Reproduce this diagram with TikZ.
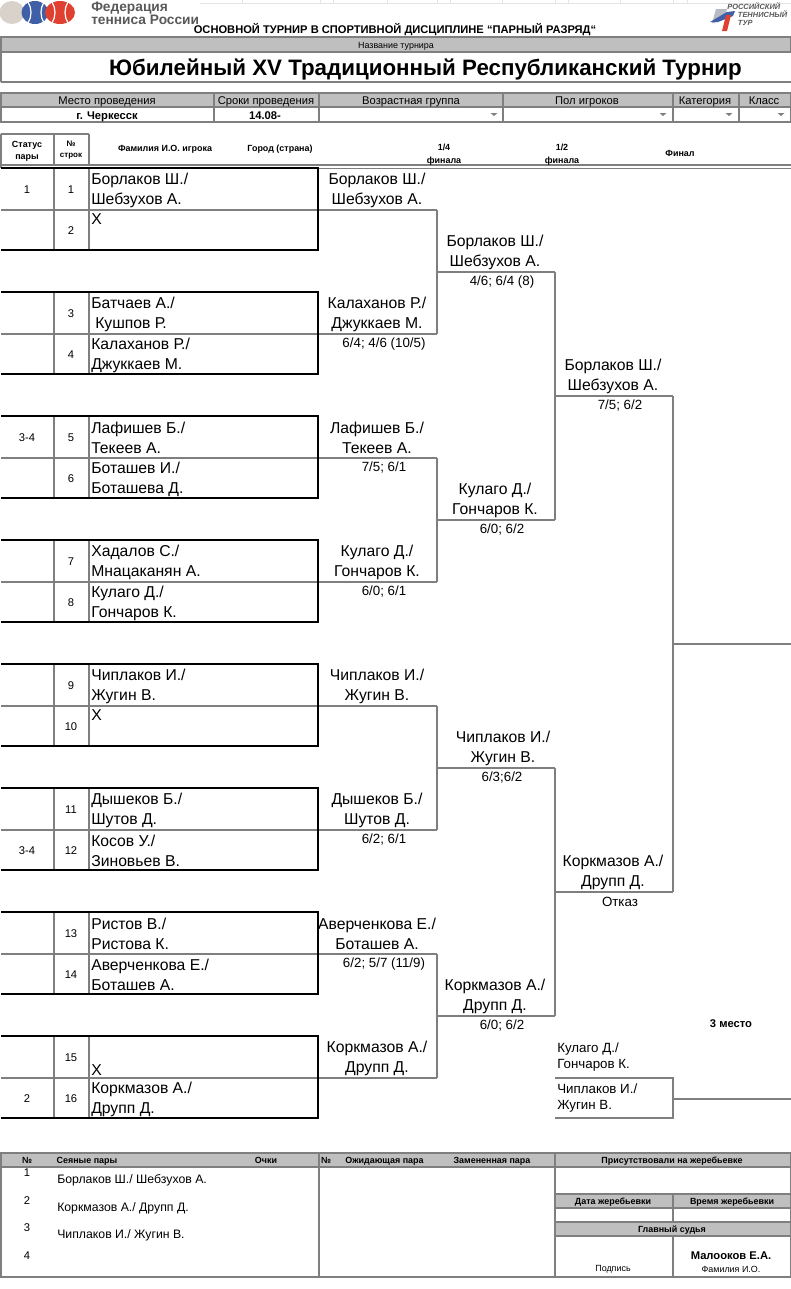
\documentclass[tikz,border=0pt]{standalone}
\usepackage{fontspec}
\setmainfont{Liberation Sans}
\definecolor{gridgrey}{HTML}{7F7F7F}
\definecolor{headgrey}{HTML}{BFBFBF}
\definecolor{rttblue}{HTML}{3F5FA8}
\definecolor{rttred}{HTML}{E0402F}
\definecolor{rttsand}{HTML}{D8D2CB}
\tikzset{
  rule/.style={gridgrey, line width=1.1pt},
  bracket/.style={gridgrey, line width=0.9pt},
  pairbox/.style={black, line width=1.5pt},
  pairname/.style={anchor=west, align=left, font=\fontsize{11.8}{15}\selectfont, inner sep=0pt},
  winner/.style={align=center, font=\fontsize{11.8}{15}\selectfont, inner sep=0pt},
  score/.style={font=\fontsize{10}{11}\selectfont, inner sep=0pt},
  headtext/.style={font=\fontsize{8.4}{10}\selectfont, inner sep=0pt, text height=1.5ex, text depth=.25ex},
  headbold/.style={font=\fontsize{6.7}{9}\bfseries\selectfont, align=center, inner sep=0pt},
  tablehead/.style={font=\fontsize{6.7}{8}\bfseries\selectfont, inner sep=0pt, text height=1.5ex, text depth=.25ex},
  smalltext/.style={font=\fontsize{8.4}{10}\selectfont, inner sep=0pt},
  ballarc/.style={white, line width=0.9pt}
}
\begin{document}
\begin{tikzpicture}[x=0.75pt, y=-0.75pt]
\useasboundingbox (0,0) rectangle (791,1289);
\fill[white] (0,0) rectangle (791,1289);

% sheet grid showing at the top
\draw[black!10, line width=0.4pt] (200,3) -- (791,3);
\foreach \xtick in {242,320,333,387,437,450,502,555,568,620,673,687} \draw[black!10, line width=0.4pt] (\xtick,0) -- (\xtick,3);

% logos
\fill[rttsand] (12,12.5) circle (12.5 and 11.5);
\fill[rttblue] (35,12.5) circle (13.5 and 11.5);
\fill[rttred] (60,12.5) circle (15 and 11.5);
\draw[ballarc] (28,2) .. controls (32,8) and (32,17) .. (28,23);
\draw[ballarc] (44,2) .. controls (40,8) and (40,17) .. (44,23);
\draw[ballarc] (52,2) .. controls (56,8) and (56,17) .. (52,23);
\draw[ballarc] (68,2) .. controls (64,8) and (64,17) .. (68,23);
\node[inner sep=0pt, anchor=west, align=left, font=\fontsize{10.3}{9.8}\bfseries\selectfont, black!65] (fedlogo) at (91,13.5) {Федерация\\тенниса России};
\fill[rttsand!80!rttblue] (712,23) -- (716,9) -- (727,9) -- (725,17) -- (717,19) -- (715,23) -- cycle;
\fill[rttblue] (710,22) -- (727,12) -- (735,11) -- (733,16) -- (718,22) -- cycle;
\fill[rttred] (722,31) -- (726,15) -- (731,15) -- (727,31) -- cycle;
\node[inner sep=0pt, anchor=west, align=left, font=\fontsize{5.6}{6}\bfseries\itshape\selectfont, black!65] (rttlogo) at (727,14) {РОССИЙСКИЙ\\\hspace{8pt}ТЕННИСНЫЙ\\\hspace{8pt}ТУР};

\node[inner sep=0pt, font=\fontsize{8.35}{10}\bfseries\selectfont] (caption) at (395,30) {ОСНОВНОЙ ТУРНИР В СПОРТИВНОЙ ДИСЦИПЛИНЕ “ПАРНЫЙ РАЗРЯД“};

% name of tournament
\fill[headgrey] (1,37) rectangle (791,52);
\draw[rule] (1,82) -- (1,37) -- (791,37) -- (791,52) -- (1,52);
\draw[rule] (1,82) -- (791,82);
\node[headtext, font=\fontsize{6.7}{8}\selectfont] (namehead) at (396,44.5) {Название турнира};
\node[inner sep=0pt, font=\fontsize{16.75}{18}\bfseries\selectfont] (title) at (425.5,70) {Юбилейный XV Традиционный Республиканский Турнир};

% place and date
\fill[headgrey] (1,93) rectangle (791,107);
\draw[rule] (1,93) rectangle (791,122);
\draw[rule] (1,107) -- (791,107);
\foreach \xcol in {214,319,503,673,739} \draw[rule] (\xcol,93) -- (\xcol,122);
\foreach \xtext/\ttext in {107/Место проведения, 266/Сроки проведения, 411/Возрастная группа, 587/Пол игроков, 705/Категория, 764/Класс}
  \node[headtext] at (\xtext,100.5) {\ttext};
\node[headtext, font=\fontsize{8.4}{10}\bfseries\selectfont] (place) at (107,115) {г. Черкесск};
\node[headtext, font=\fontsize{8.4}{10}\bfseries\selectfont] (dates) at (265,115) {14.08-};
\foreach \xarrow in {494,663,729,781} \fill[gridgrey] (\xarrow-3.5,113) -- (\xarrow+3.5,113) -- (\xarrow,116) -- cycle;

% head of the draw
\draw[rule] (1,134) -- (89,134);
\draw[rule] (1,134) -- (1,168);
\draw[rule] (54,134) -- (54,165);
\draw[rule] (89,134) -- (89,165);
\draw[rule] (1,165) -- (791,165);
\draw[gridgrey, line width=0.7pt] (1,168) -- (791,168);
\node[headbold] (statushead) at (27,151) {Статус\\пары};
\node[headbold, font=\fontsize{6}{8}\bfseries\selectfont] (rowhead) at (71,150) {№\\строк};
\node[headbold] (namehd) at (165,149) {Фамилия И.О. игрока};
\node[headbold] (cityhd) at (280,149) {Город (страна)};
\node[headbold, font=\fontsize{6.7}{10}\bfseries\selectfont] (quarterhd) at (444,155) {1/4\\финала};
\node[headbold, font=\fontsize{6.7}{10}\bfseries\selectfont] (semihd) at (562,155) {1/2\\финала};
\node[headbold] (finalhd) at (680,153) {Финал};

% rows of the draw
\foreach \ytop/\nfirst/\nsecond in {168/1/2, 292/3/4, 416/5/6, 540/7/8, 664/9/10, 788/11/12, 912/13/14, 1036/15/16} {
  \draw[gridgrey, line width=1pt] (1,\ytop+42) -- (437,\ytop+42);
  \draw[gridgrey, line width=1pt] (54,\ytop) -- (54,\ytop+82);
  \draw[gridgrey, line width=1pt] (89,\ytop) -- (89,\ytop+82);
  \draw[pairbox] (1,\ytop) -- (318,\ytop) -- (318,\ytop+82) -- (1,\ytop+82);
  \node[smalltext] at (71,\ytop+21.5) {\nfirst};
  \node[smalltext] at (71,\ytop+62.5) {\nsecond};
}
\node[smalltext] (statusa) at (27,189.5) {1};
\node[smalltext] (statusb) at (27,437.5) {3-4};
\node[smalltext] (statusc) at (27,850.5) {3-4};
\node[smalltext] (statusd) at (27,1098.5) {2};

% entries
\foreach \yrow/\tname in {
  190/{Борлаков Ш./\\Шебзухов А.}, 232/{Х\\\strut},
  314/{Батчаев А./\\ \hspace{3pt}Кушпов Р.}, 355/{Калаханов Р./\\Джуккаев М.},
  438/{Лафишев Б./\\Текеев А.}, 479/{Боташев И./\\Боташева Д.},
  562/{Хадалов С./\\Мнацаканян А.}, 603/{Кулаго Д./\\Гончаров К.},
  686/{Чиплаков И./\\Жугин В.}, 728/{Х\\\strut},
  810/{Дышеков Б./\\Шутов Д.}, 851/{Косов У./\\Зиновьев В.},
  934/{Ристов В./\\Ристова К.}, 975/{Аверченкова Е./\\Боташев А.},
  1058/{\strut\\Х}, 1099/{Коркмазов А./\\Друпп Д.}}
  \node[pairname] at (91,\yrow) {\tname};

% bracket lines
\foreach \ya/\yb in {210/334, 458/582, 706/830, 954/1078} {
  \draw[bracket] (437,\ya) -- (437,\yb);
  \draw[bracket] (437,{(\ya+\yb)/2}) -- (555,{(\ya+\yb)/2});
}
\foreach \ya/\yb in {272/520, 768/1016} {
  \draw[bracket] (555,\ya) -- (555,\yb);
  \draw[bracket] (555,{(\ya+\yb)/2}) -- (673,{(\ya+\yb)/2});
}
\draw[bracket] (673,396) -- (673,892);
\draw[bracket] (673,644) -- (791,644);
\draw[bracket] (555,1078) -- (673,1078) -- (673,1118) -- (555,1118);
\draw[bracket] (673,1099) -- (791,1099);

% names in the later rounds
\foreach \xname/\yname/\tname in {
  377/190/{Борлаков Ш./\\Шебзухов А.}, 377/314/{Калаханов Р./\\Джуккаев М.},
  377/438/{Лафишев Б./\\Текеев А.}, 377/562/{Кулаго Д./\\Гончаров К.},
  377/686/{Чиплаков И./\\Жугин В.}, 377/810/{Дышеков Б./\\Шутов Д.},
  377/934/{Аверченкова Е./\\Боташев А.}, 377/1058/{Коркмазов А./\\Друпп Д.},
  495/252/{Борлаков Ш./\\Шебзухов А.}, 495/500/{Кулаго Д./\\Гончаров К.},
  503/748/{Чиплаков И./\\Жугин В.}, 495/996/{Коркмазов А./\\Друпп Д.},
  613/376/{Борлаков Ш./\\Шебзухов А.}, 613/872/{Коркмазов А./\\Друпп Д.}}
  \node[winner] at (\xname,\yname) {\tname};

% scores
\foreach \xs/\ys/\tscore in {
  384/344/{6/4; 4/6 (10/5)}, 384/468/{7/5; 6/1}, 384/592/{6/0; 6/1},
  384/840/{6/2; 6/1}, 384/964/{6/2; 5/7 (11/9)},
  502/282/{4/6; 6/4 (8)}, 502/530/{6/0; 6/2}, 502/778/{6/3;6/2}, 502/1026/{6/0; 6/2},
  620/406/{7/5; 6/2}, 620/902/{Отказ}}
  \node[score] at (\xs,\ys) {\tscore};

% third place
\node[headbold, font=\fontsize{8.4}{9}\bfseries\selectfont] (thirdhd) at (731,1023.5) {3 место};
\node[pairname, font=\fontsize{10}{12.5}\selectfont] (thirda) at (557,1057) {Кулаго Д./\\Гончаров К.};
\node[pairname, font=\fontsize{10}{12}\selectfont] (thirdb) at (557,1098) {Чиплаков И./\\Жугин В.};

% bottom table
\fill[headgrey] (1,1153) rectangle (791,1167);
\fill[headgrey] (555,1194) rectangle (791,1208);
\fill[headgrey] (555,1222) rectangle (791,1236);
\draw[rule] (1,1153) rectangle (791,1277);
\draw[rule] (1,1167) -- (791,1167);
\draw[rule] (319,1153) -- (319,1277);
\draw[rule] (555,1153) -- (555,1277);
\draw[rule] (555,1194) -- (791,1194);
\draw[rule] (555,1208) -- (791,1208);
\draw[rule] (555,1222) -- (791,1222);
\draw[rule] (555,1236) -- (791,1236);
\draw[rule] (673,1194) -- (673,1222);
\draw[rule] (673,1236) -- (673,1277);
\foreach \xh/\thead in {27/№, 87/Сеяные пары, 266/Очки, 326/№, 384.5/Ожидающая пара, 492/Замененная пара, 672/Присутствовали на жеребьевке}
  \node[tablehead] at (\xh,1159.5) {\thead};
\node[tablehead] (datehd) at (613,1200.5) {Дата жеребьевки};
\node[tablehead] (timehd) at (732,1200.5) {Время жеребьевки};
\node[tablehead] (refhd) at (672,1228) {Главный судья};
\foreach \yseed/\nseed in {1173/1, 1201/2, 1228/3, 1256/4} \node[smalltext] at (27,\yseed) {\nseed};
\node[pairname, font=\fontsize{9.2}{10}\selectfont] (seeda) at (57,1180.5) {Борлаков Ш./ Шебзухов А.};
\node[pairname, font=\fontsize{9.2}{10}\selectfont] (seedb) at (57,1208.5) {Коркмазов А./ Друпп Д.};
\node[pairname, font=\fontsize{9.2}{10}\selectfont] (seedc) at (57,1235.5) {Чиплаков И./ Жугин В.};
\node[inner sep=0pt, font=\fontsize{6.7}{8}\selectfont] (signhd) at (613,1269) {Подпись};
\node[inner sep=0pt, font=\fontsize{8.4}{10}\bfseries\selectfont] (referee) at (731,1256) {Малооков Е.А.};
\node[inner sep=0pt, font=\fontsize{6.7}{8}\selectfont] (fiohd) at (731,1269) {Фамилия И.О.};
\end{tikzpicture}
\end{document}
